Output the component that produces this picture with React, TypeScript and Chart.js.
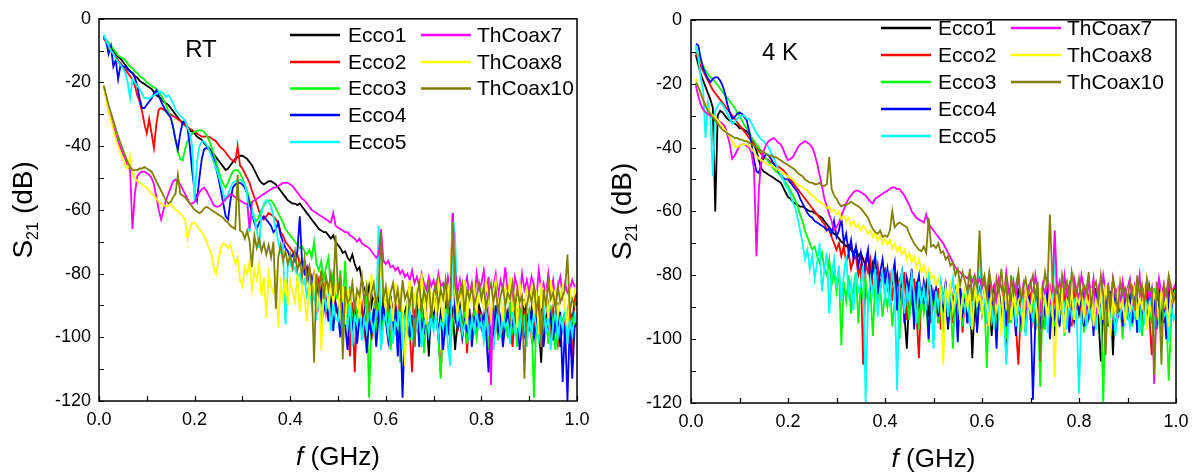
import React, { useEffect, useRef } from "react";
import { Chart, registerables } from "chart.js";

Chart.register(...registerables);

const FONT = "'Liberation Sans', Arial, Helvetica, sans-serif";

// frequency grid (GHz)
const FREQ = [
  0.01, 0.015, 0.02, 0.025, 0.03, 0.035, 0.04, 0.045, 0.05, 0.055, 0.06, 0.065, 0.07, 0.075, 0.08, 0.085, 0.09, 0.095,
  0.1, 0.105, 0.11, 0.115, 0.12, 0.125, 0.13, 0.135, 0.14, 0.145, 0.15, 0.155, 0.16, 0.165, 0.17, 0.175, 0.18, 0.185, 0.19, 0.195,
  0.2, 0.205, 0.21, 0.215, 0.22, 0.225, 0.23, 0.235, 0.24, 0.245, 0.25, 0.255, 0.26, 0.265, 0.27, 0.275, 0.28, 0.285, 0.29, 0.295,
  0.3, 0.305, 0.31, 0.315, 0.32, 0.325, 0.33, 0.335, 0.34, 0.345, 0.35, 0.355, 0.36, 0.365, 0.37, 0.375, 0.38, 0.385, 0.39, 0.395,
  0.4, 0.405, 0.41, 0.415, 0.42, 0.425, 0.43, 0.435, 0.44, 0.445, 0.45, 0.455, 0.46, 0.465, 0.47, 0.475, 0.48, 0.485, 0.49, 0.495,
  0.5, 0.505, 0.51, 0.515, 0.52, 0.525, 0.53, 0.535, 0.54, 0.545, 0.55, 0.555, 0.56, 0.565, 0.57, 0.575, 0.58, 0.585, 0.59, 0.595,
  0.6, 0.605, 0.61, 0.615, 0.62, 0.625, 0.63, 0.635, 0.64, 0.645, 0.65, 0.655, 0.66, 0.665, 0.67, 0.675, 0.68, 0.685, 0.69, 0.695,
  0.7, 0.705, 0.71, 0.715, 0.72, 0.725, 0.73, 0.735, 0.74, 0.745, 0.75, 0.755, 0.76, 0.765, 0.77, 0.775, 0.78, 0.785, 0.79, 0.795,
  0.8, 0.805, 0.81, 0.815, 0.82, 0.825, 0.83, 0.835, 0.84, 0.845, 0.85, 0.855, 0.86, 0.865, 0.87, 0.875, 0.88, 0.885, 0.89, 0.895,
  0.9, 0.905, 0.91, 0.915, 0.92, 0.925, 0.93, 0.935, 0.94, 0.945, 0.95, 0.955, 0.96, 0.965, 0.97, 0.975, 0.98, 0.985, 0.99, 0.995,
  1.0,
];

const SERIES_NAMES = ["Ecco1", "Ecco2", "Ecco3", "Ecco4", "Ecco5", "ThCoax7", "ThCoax8", "ThCoax10"];
const SERIES_COLORS = ["#000000", "#ff0000", "#00ff00", "#0000ff", "#00ffff", "#ff00ff", "#ffff00", "#808000"];

const X_TICK_LABELS = ["0.0", "0.2", "0.4", "0.6", "0.8", "1.0"];
const Y_TICK_LABELS = ["0", "-20", "-40", "-60", "-80", "-100", "-120"];
const X_MARKS = [0, 0.1, 0.2, 0.3, 0.4, 0.5, 0.6, 0.7, 0.8, 0.9, 1.0];
const Y_MARKS = [0, -10, -20, -30, -40, -50, -60, -70, -80, -90, -100, -110, -120];

// ---------- RT (room temperature) S21, dB ----------
const RT_ECCO1 = [
  -6, -7, -8, -9, -10, -11, -12, -12.5, -13.5, -14.5, -15.5, -16.5, -17, -18, -18.5, -19.5, -20, -20.5,
  -21, -21.5, -22, -23, -24, -24.5, -25, -26, -26.5, -27, -28, -29, -30, -31, -32, -32.5, -33, -34, -35, -35.5,
  -36, -37, -37.5, -38, -39, -40, -40.5, -41.5, -42.5, -43.5, -44.5, -45.5, -46.5, -47.5, -47, -46, -45, -44, -43.5, -43,
  -43, -43.5, -44, -45, -46, -47.5, -49, -50.5, -51.5, -52, -51.5, -51, -51, -51.5, -52, -53, -54, -55, -56, -57,
  -57.5, -58, -58, -58.5, -58, -59, -60, -61, -62, -63, -64, -65, -66, -66.5, -67, -67, -68, -69, -68, -70,
  -71, -72, -73.5, -73, -75, -76, -74, -77, -79, -78, -82, -85, -88, -84, -90, -86, -92, -88, -95, -87,
  -90, -98, -87, -93, -91, -100, -88, -104, -92, -89, -97, -91, -103, -90, -95, -88, -99, -92, -106, -90,
  -94, -89, -101, -92, -96, -88, -99, -93, -91, -104, -95, -90, -98, -89, -96, -93, -100, -91, -97, -90,
  -93, -99, -90, -95, -103, -92, -97, -89, -100, -94, -91, -98, -95, -102, -90, -96, -92, -99, -88, -94,
  -97, -91, -100, -93, -96, -108, -92, -95, -90, -101, -94, -97, -89, -103, -95, -92, -99, -91, -96, -88,
  -90,
];
const RT_ECCO2 = [
  -6, -7.5, -9, -10, -11, -12, -13, -14, -15, -16, -17, -18, -19, -21, -24, -26, -29, -33,
  -36, -31.5, -36, -40.5, -33, -28.5, -28, -28.5, -29, -29.5, -30, -30.5, -31, -31.5, -32, -33, -33.5, -34, -34.5, -35,
  -35.5, -36, -36.5, -37, -37, -37, -37, -37.5, -38, -38.5, -39.5, -40.5, -41, -42, -43, -44, -44.5, -45, -40, -46,
  -47, -48.5, -50, -51.5, -54, -56, -58, -60.5, -62, -63, -62, -61, -61.5, -62, -63, -64, -67, -68, -70, -71,
  -72, -73, -75, -74, -77, -76, -79, -81, -78, -84, -80, -86, -82, -89, -84, -92, -86, -96, -88, -91,
  -93, -88, -97, -90, -94, -106, -89, -111, -92, -95, -90, -99, -93, -88, -101, -92, -96, -89, -98, -91,
  -94, -90, -103, -92, -97, -89, -100, -93, -95, -91, -98, -111, -92, -94, -99, -89, -96, -93, -101, -90,
  -95, -92, -99, -112, -93, -97, -89, -102, -94, -91, -98, -95, -100, -90, -105, -93, -96, -91, -99, -92,
  -94, -100, -91, -96, -93, -104, -90, -97, -95, -101, -92, -98, -89, -103, -94, -96, -91, -99, -93, -97,
  -92, -100, -95, -98, -90, -103, -94, -97, -93, -99, -91, -96, -102, -94, -97, -95, -100, -90, -110, -88,
  -86,
];
const RT_ECCO3 = [
  -5.5, -6.5, -7.5, -8.5, -9.5, -10.5, -11.5, -12, -12.5, -13, -14, -15, -15.5, -16.5, -17, -18, -18.5, -19,
  -20, -20.5, -21, -21.5, -22, -23, -24, -25.5, -27, -29, -31, -34, -38, -42, -44, -44.5, -41, -38.5, -37, -36,
  -35.5, -35.2, -35, -35, -35.5, -36.5, -38, -40, -42.5, -45, -47.5, -50, -52, -53, -51.5, -49.5, -48, -47.5, -47.5, -48.5,
  -50, -52, -54, -57, -60, -62.5, -63.5, -62, -60, -58.5, -57.5, -57, -57, -58, -59.5, -61, -62.5, -64, -66, -67,
  -68, -69, -70, -71, -72, -71.5, -73, -74, -72.5, -75, -70, -77, -79, -76, -82, -78, -75, -85, -80, -88,
  -86, -79, -90, -76, -93, -84, -97, -88, -95, -90, -100, -92, -87, -119, -96, -91, -98, -89, -103, -93,
  -95, -90, -104, -93, -98, -91, -108, -94, -97, -89, -101, -92, -96, -93, -100, -90, -105, -94, -98, -91,
  -96, -92, -100, -113, -94, -98, -89, -103, -95, -91, -97, -93, -99, -90, -102, -95, -97, -92, -100, -94,
  -93, -99, -91, -104, -95, -97, -90, -101, -94, -96, -92, -100, -89, -98, -95, -103, -91, -97, -94, -99,
  -92, -96, -119, -94, -100, -91, -98, -95, -102, -90, -97, -104, -93, -99, -95, -101, -92, -98, -94, -96,
  -95,
];
const RT_ECCO4 = [
  -5.5, -7, -11, -8.5, -15, -13, -19, -14.5, -15, -15, -16, -16.5, -17, -18.5, -21, -25, -28, -28,
  -27, -26, -25, -23.5, -22.5, -24, -26, -27.5, -29, -30, -31, -34, -38, -41, -36, -32.5, -32, -34, -40, -48,
  -54, -57, -50, -44, -41, -40.5, -41, -42, -44, -47, -50, -54, -58, -62, -63, -57, -53, -52, -51.5, -51.5,
  -52, -53, -55, -58, -61, -64, -66, -64, -63, -62, -63, -64, -65, -67, -66, -64, -68, -70, -72, -73,
  -75, -74, -76, -73, -62, -77, -80, -78, -84, -81, -87, -83, -90, -85, -92, -88, -95, -86, -98, -89,
  -93, -100, -89, -96, -104, -91, -98, -90, -102, -94, -97, -92, -105, -95, -99, -91, -103, -93, -96, -90,
  -95, -101, -92, -98, -89, -106, -94, -119, -97, -91, -100, -93, -96, -90, -103, -95, -98, -92, -101, -94,
  -96, -91, -99, -93, -104, -95, -98, -90, -61, -94, -97, -92, -100, -95, -98, -91, -103, -94, -96, -93,
  -97, -92, -99, -111, -95, -101, -90, -98, -94, -103, -96, -92, -100, -95, -97, -91, -104, -94, -99, -93,
  -96, -92, -100, -94, -98, -91, -103, -95, -97, -93, -101, -94, -99, -92, -114, -96, -120, -95, -113, -97,
  -95,
];
const RT_ECCO5 = [
  -5, -7, -8.5, -10, -11, -12.5, -13.5, -14.5, -15.5, -17, -20, -25, -19, -20, -21, -22, -23.5, -25,
  -25, -25, -24.5, -24, -23.5, -23, -23, -23.5, -24.5, -24, -25, -26.5, -28.5, -29.5, -30.5, -31, -32, -34, -36, -40,
  -57, -45, -40, -38.5, -38.5, -39.5, -41, -43, -45, -47, -49, -52, -55, -57, -55, -53, -51.5, -51, -51, -50.5,
  -51, -52, -55, -67, -60, -63, -66, -72, -61, -58, -57, -57.5, -59, -62, -66, -70, -73, -71, -96, -77,
  -76, -79, -78, -81, -80, -84, -82, -87, -83, -90, -85, -93, -88, -96, -84, -91, -87, -98, -89, -94,
  -95, -88, -100, -91, -97, -89, -103, -93, -96, -90, -101, -94, -98, -91, -95, -99, -92, -65, -104, -96,
  -93, -99, -91, -102, -95, -97, -90, -104, -94, -98, -92, -100, -95, -97, -91, -103, -96, -93, -99, -94,
  -98, -92, -100, -95, -97, -91, -103, -109, -62, -68, -95, -92, -99, -96, -93, -101, -94, -98, -92, -97,
  -95, -101, -92, -98, -94, -104, -96, -91, -100, -93, -97, -95, -102, -90, -98, -94, -99, -92, -96, -103,
  -94, -99, -92, -97, -101, -95, -90, -98, -93, -104, -96, -92, -100, -94, -97, -91, -102, -95, -99, -93,
  -96,
];
const RT_TH7 = [
  -21, -25, -29, -31.5, -34, -36.5, -38.5, -40.5, -42.5, -44, -46, -47.5, -66, -55, -49.5, -48.5, -48, -48,
  -48.5, -49, -50, -52, -56, -60, -63, -60, -57, -55, -53, -51, -50.5, -51, -52, -53.5, -55, -56.5, -58, -58,
  -57.5, -56, -54.5, -53.5, -53, -54, -55.5, -57, -58.5, -59, -59, -58.5, -57.5, -56.5, -56, -55, -55.5, -56, -56.5, -57,
  -57.5, -58, -58, -66, -57.5, -57, -56.5, -56, -55.5, -55, -54.5, -54, -53.5, -53, -53, -52.5, -52, -51.5, -51.5, -51.5,
  -52, -52.5, -53.5, -54.5, -55.5, -56.5, -57, -58, -59, -60, -60.5, -61, -61.5, -62, -62.5, -63, -63.5, -64, -61, -65,
  -65.5, -66, -66.5, -67, -67, -68, -68.5, -69, -70, -69, -70.5, -71, -71.5, -72, -73, -74, -75, -74, -66, -76,
  -77, -76, -78, -77.5, -79, -78, -80, -79, -81, -80, -82, -79, -83, -81, -84, -80, -83, -85, -81, -84,
  -82, -86, -80, -84, -83, -87, -81, -85, -61, -79, -86, -82, -88, -84, -81, -87, -83, -89, -80, -85,
  -83, -79, -86, -81, -115, -84, -80, -87, -82, -85, -78, -86, -83, -89, -81, -84, -87, -80, -85, -82,
  -86, -81, -84, -88, -79, -85, -83, -87, -80, -86, -82, -89, -84, -81, -87, -83, -86, -85, -82, -84,
  -84,
];
const RT_TH8 = [
  -21, -25.5, -29, -32, -35, -37.5, -40, -42, -44, -46, -47, -43, -49, -50, -51, -51.5, -52, -52.5,
  -53, -54, -55, -55.5, -56.5, -57.5, -58, -58.5, -59, -58.5, -58, -59, -60, -60.5, -61, -62, -63, -69, -66, -64,
  -64, -65, -66, -67, -68, -70, -72, -74, -78, -80, -76, -72, -70.5, -71, -72, -71, -74, -77, -75, -82,
  -84, -78, -80, -76, -85, -79, -82, -77, -87, -81, -94, -80, -84, -86, -79, -97, -83, -88, -81, -90,
  -82, -86, -89, -80, -92, -84, -88, -95, -83, -87, -81, -90, -85, -104, -86, -82, -91, -84, -89, -83,
  -87, -92, -84, -96, -85, -89, -82, -91, -86, -94, -81, -88, -84, -92, -80, -87, -90, -83, -78, -86,
  -91, -85, -88, -95, -83, -90, -86, -92, -109, -89, -82, -93, -87, -85, -91, -80, -88, -96, -84, -90,
  -86, -92, -83, -89, -95, -84, -88, -81, -64, -87, -93, -85, -90, -82, -96, -86, -89, -84, -91, -87,
  -85, -91, -83, -88, -94, -86, -82, -90, -87, -95, -84, -89, -81, -92, -86, -97, -83, -88, -90, -85,
  -89, -84, -92, -87, -99, -83, -90, -86, -94, -82, -88, -85, -93, -87, -84, -91, -96, -85, -89, -86,
  -83,
];
const RT_TH10 = [
  -21, -24, -27, -29.5, -32, -34.5, -37, -39, -41, -43, -45, -46.5, -47.5, -47.5, -47.5, -47, -47, -46.5,
  -47, -47.5, -48, -49.5, -51, -52.5, -54, -55.5, -57, -58, -57.5, -56, -55, -49, -55, -55.5, -56, -57, -58, -59,
  -60, -60.5, -61, -60.5, -59.5, -59, -59.5, -60, -60.5, -61, -61.5, -62, -62.5, -63.5, -64, -65, -65.5, -66, -49, -66.5,
  -67, -69, -66.5, -70, -78, -68, -72, -69, -73, -70.5, -74, -71, -75, -70, -91, -75, -71, -76, -73, -77,
  -74, -78, -73, -79, -76, -81, -75, -82, -78, -84, -108, -80, -86, -79, -88, -81, -85, -80, -87, -68,
  -86, -82, -107, -84, -89, -88, -83, -91, -85, -87, -81, -89, -84, -92, -86, -83, -90, -85, -67, -88,
  -84, -91, -86, -83, -89, -85, -92, -82, -88, -86, -90, -84, -103, -87, -83, -91, -85, -89, -82, -94,
  -86, -83, -90, -85, -88, -82, -91, -87, -64, -84, -89, -86, -83, -92, -85, -88, -84, -90, -87, -83,
  -88, -84, -91, -86, -83, -89, -85, -92, -87, -84, -90, -86, -88, -83, -91, -85, -89, -87, -113, -90,
  -86, -89, -84, -92, -87, -103, -85, -90, -83, -88, -86, -91, -84, -89, -87, -85, -74, -92, -88, -90,
  -87,
];

// ---------- 4 K S21, dB ----------
const K4_ECCO1 = [
  -11, -14, -17, -19, -21, -23, -25, -27.5, -60, -30, -28.5, -29, -30, -31, -31.5, -32, -32.5, -33,
  -34, -34, -34.5, -35, -35.8, -37, -39, -41, -44, -46.5, -47.5, -48, -48.5, -49, -49.5, -50, -50.5, -51, -52.5, -54,
  -55.5, -56, -57, -57.5, -58, -58.5, -58.5, -59, -59.5, -60, -60, -60.5, -61, -61.5, -62, -63, -64, -65, -66, -67,
  -67.5, -68.5, -69.5, -70, -71, -70.5, -72, -73, -71.5, -74, -73, -75, -77, -74, -79, -76, -81, -78, -83, -80,
  -82, -79, -86, -81, -84, -80, -88, -83, -92, -103, -86, -84, -94, -82, -90, -85, -89, -83, -93, -86,
  -88, -84, -95, -82, -90, -86, -97, -83, -89, -85, -93, -84, -91, -87, -95, -85, -106, -88, -96, -84,
  -90, -85, -94, -87, -99, -84, -91, -86, -93, -88, -105, -85, -92, -87, -96, -84, -90, -89, -98, -86,
  -93, -87, -97, -85, -91, -88, -95, -84, -92, -89, -99, -86, -94, -87, -91, -85, -96, -88, -90, -86,
  -92, -87, -95, -85, -90, -88, -97, -84, -93, -107, -91, -89, -96, -85, -105, -87, -92, -88, -95, -86,
  -90, -87, -94, -85, -92, -88, -98, -84, -91, -86, -95, -87, -89, -85, -93, -88, -96, -84, -90, -85,
  -83,
];
const K4_ECCO2 = [
  -10, -12.5, -14.5, -16, -17.5, -19, -20.5, -22, -23, -24, -25, -26, -27, -28, -29, -30, -31, -32,
  -33, -34, -35, -36, -37, -38, -39, -40, -41, -42, -43, -43.5, -44, -44.5, -45, -45.5, -46, -46.5, -47, -48,
  -49, -50, -51, -52, -53, -54, -55, -56, -57, -58, -59, -60, -61, -62, -63, -64, -65.5, -66, -68, -70,
  -72, -70, -74, -71, -76, -73, -78, -75, -74, -80, -77, -108, -76, -79, -75, -83, -82, -77, -85, -79,
  -78, -84, -80, -88, -77, -90, -82, -86, -79, -94, -83, -88, -81, -92, -106, -85, -84, -89, -82, -95,
  -86, -91, -84, -97, -88, -83, -93, -87, -95, -85, -90, -84, -98, -86, -89, -83, -94, -88, -92, -85,
  -91, -86, -95, -84, -89, -87, -97, -85, -92, -88, -94, -86, -90, -84, -96, -108, -91, -85, -93, -88,
  -86, -94, -88, -91, -85, -97, -87, -89, -84, -92, -86, -95, -88, -90, -85, -93, -87, -96, -84, -91,
  -88, -93, -85, -96, -87, -90, -84, -94, -86, -91, -88, -97, -85, -92, -87, -95, -84, -90, -86, -93,
  -87, -94, -85, -91, -88, -96, -86, -90, -84, -93, -105, -89, -85, -92, -87, -95, -86, -90, -84, -88,
  -82,
];
const K4_ECCO3 = [
  -9, -11, -13, -14.5, -16, -17, -18, -18.5, -19.5, -20.5, -21.5, -22.5, -23.5, -24.5, -25.5, -26.5, -27.5, -29,
  -30, -31.5, -33, -34, -35, -37, -38, -39, -40, -41.5, -42.5, -43.5, -44.5, -45.5, -46.5, -47.5, -48, -49, -50, -51,
  -52, -53.5, -55, -56.5, -58.5, -61, -63, -66, -68, -70, -72, -71, -74, -76, -73, -78, -80, -75, -83, -79,
  -85, -78, -102, -82, -88, -80, -92, -84, -79, -95, -83, -87, -81, -90, -85, -99, -82, -88, -84, -93,
  -86, -90, -83, -96, -88, -85, -100, -84, -91, -87, -94, -83, -89, -86, -97, -85, -92, -88, -101, -84,
  -90, -87, -95, -83, -98, -86, -91, -88, -103, -85, -93, -87, -96, -84, -90, -88, -97, -86, -94, -89,
  -92, -87, -109, -85, -94, -89, -97, -86, -91, -88, -100, -84, -95, -87, -93, -86, -98, -88, -91, -85,
  -94, -87, -97, -85, -115, -88, -97, -86, -93, -89, -96, -84, -91, -87, -99, -85, -92, -88, -95, -86,
  -90, -87, -98, -85, -93, -88, -96, -84, -91, -89, -120, -86, -94, -87, -97, -85, -92, -88, -100, -86,
  -91, -87, -96, -85, -93, -89, -99, -86, -92, -88, -95, -84, -90, -87, -98, -85, -92, -113, -94, -86,
  -84,
];
const K4_ECCO4 = [
  -7.5, -8, -12, -15, -17, -18.5, -19.5, -18.5, -18, -18, -19, -20.5, -23, -26.5, -29, -31, -30.5, -29.5,
  -29, -29.5, -30.5, -31.5, -35, -39, -44, -47.5, -48, -45, -43, -42, -42.5, -43.5, -45, -46, -47.5, -48.5, -49.5, -50,
  -50, -51, -52, -53, -54, -56, -57.5, -59, -60.5, -61.5, -62, -63, -63.5, -64, -64.5, -65, -66, -65, -67, -63,
  -68, -66, -62, -70, -67, -73, -69, -75, -71, -77, -73, -80, -76, -72, -83, -78, -74, -86, -79, -75,
  -82, -78, -88, -80, -76, -91, -83, -79, -95, -81, -85, -78, -97, -84, -80, -89, -82, -86, -100, -83,
  -88, -84, -93, -86, -90, -82, -96, -87, -91, -85, -101, -84, -92, -88, -95, -83, -90, -87, -98, -85,
  -92, -86, -95, -84, -89, -88, -103, -85, -93, -87, -96, -84, -91, -89, -99, -86, -94, -88, -92, -85,
  -90, -119, -94, -86, -97, -88, -92, -85, -100, -87, -93, -89, -96, -84, -91, -88, -98, -86, -94, -87,
  -91, -85, -96, -88, -93, -86, -99, -84, -90, -88, -95, -86, -92, -87, -97, -85, -93, -89, -96, -84,
  -92, -87, -95, -85, -98, -88, -91, -86, -94, -84, -90, -88, -97, -85, -93, -87, -100, -86, -92, -88,
  -85,
];
const K4_ECCO5 = [
  -8, -12, -18, -22, -37, -26, -30, -49, -28.5, -27, -26, -26.5, -28, -29.5, -31, -32.5, -32, -31,
  -30.5, -30, -30, -31, -31, -32.5, -34, -35.5, -36.5, -37.5, -38, -39, -40, -41.5, -43, -45, -47, -48.5, -50, -52,
  -53, -55, -57, -59, -62, -66, -70, -75, -72, -78, -74, -81, -76, -70, -85, -78, -73, -92, -80, -75,
  -84, -77, -88, -80, -74, -86, -82, -91, -79, -85, -83, -77, -120, -89, -81, -86, -78, -93, -84, -80,
  -87, -81, -90, -78, -85, -116, -83, -79, -92, -84, -88, -80, -86, -95, -82, -89, -84, -91, -79, -87,
  -103, -85, -90, -82, -88, -84, -93, -86, -81, -89, -85, -94, -87, -91, -84, -96, -88, -83, -90, -68,
  -92, -86, -95, -88, -90, -97, -85, -93, -89, -91, -108, -94, -91, -86, -96, -89, -92, -87, -99, -88,
  -90, -94, -87, -96, -89, -92, -86, -98, -88, -93, -70, -95, -87, -91, -89, -97, -86, -93, -88, -92,
  -117, -91, -88, -95, -90, -93, -86, -97, -89, -92, -87, -96, -90, -94, -88, -99, -91, -93, -87, -95,
  -91, -96, -88, -93, -90, -98, -87, -94, -89, -92, -86, -97, -90, -95, -88, -93, -91, -101, -89, -94,
  -92,
];
const K4_TH7 = [
  -20.5, -24, -26.5, -28, -29, -29.5, -30, -30.5, -31, -31.5, -32, -32.5, -33.5, -36, -39, -43.5, -42.5, -41,
  -39.5, -39, -39, -39.5, -40, -42, -47, -74, -53, -44, -41, -39, -38, -37.5, -37, -37.5, -38.5, -39, -40.5, -42.5,
  -44, -43.5, -43, -41.5, -40, -39, -38.5, -38, -38.5, -39, -40, -42, -45, -48.5, -52, -56, -58.5, -61, -63, -66,
  -65, -63.5, -61.5, -59.5, -57.5, -56, -55, -54, -53.5, -53.5, -54, -54.5, -55, -56, -57, -57.5, -56, -55.5, -55, -54.5,
  -54, -53.5, -53, -52.5, -52.5, -53, -53, -54, -55, -56.5, -58, -60, -61, -62, -62.5, -63, -63.5, -61, -64, -65,
  -66, -67, -68, -69, -70, -71.5, -73, -74.5, -76, -77.5, -78.5, -79, -80, -80.5, -81, -79.5, -82, -80, -83, -81,
  -84, -82, -86, -80, -85, -83, -88, -81, -84, -87, -79, -85, -89, -82, -86, -80, -88, -83, -91, -84,
  -82, -87, -80, -85, -90, -83, -86, -81, -89, -84, -66, -85, -82, -88, -80, -86, -83, -91, -81, -85,
  -87, -80, -84, -89, -82, -86, -81, -92, -84, -88, -80, -85, -83, -90, -81, -86, -84, -89, -82, -87,
  -84, -81, -88, -83, -86, -80, -90, -85, -82, -87, -84, -114, -88, -81, -86, -83, -91, -82, -85, -84,
  -83,
];
const K4_TH8 = [
  -18.5, -21, -23, -25, -26.5, -28, -29, -30, -30.5, -31.5, -32.5, -33.5, -34.5, -35.5, -36.5, -38, -39.5, -40,
  -39.5, -39, -39, -39, -39.5, -40.5, -41.5, -42.5, -43.5, -44, -44.5, -45, -45.5, -45.5, -46, -46.5, -47, -47.5, -48, -48.5,
  -49, -49.5, -50, -51, -51.5, -52, -52.5, -53, -53.5, -54.5, -55, -55.5, -56.5, -57, -57.5, -58, -59, -58.5, -60, -59.5,
  -61, -60, -62.5, -61.5, -63, -62, -64.5, -63, -65, -64, -66, -64.5, -65.5, -67, -66, -68, -66.5, -69, -67.5, -70,
  -68.5, -70.5, -69, -71.5, -70, -72.5, -71, -73.5, -72, -75, -73, -76, -74, -77.5, -75, -79, -77, -80, -78, -81,
  -80, -83, -81, -85, -108, -84, -88, -83, -91, -86, -82, -94, -87, -84, -90, -85, -97, -83, -89, -86,
  -92, -85, -89, -96, -84, -88, -91, -86, -99, -83, -90, -87, -94, -85, -92, -88, -86, -97, -84, -89,
  -91, -86, -88, -95, -84, -90, -87, -93, -85, -89, -112, -86, -92, -84, -98, -88, -90, -85, -94, -87,
  -89, -85, -93, -87, -90, -84, -96, -88, -91, -86, -94, -83, -89, -99, -87, -92, -85, -90, -88, -95,
  -86, -91, -88, -84, -94, -87, -90, -85, -97, -89, -92, -86, -88, -93, -85, -90, -87, -96, -84, -89,
  -85,
];
const K4_TH10 = [
  -19.5, -21, -23, -25, -27, -28.5, -29.5, -30.5, -31.5, -32.5, -33.5, -34.5, -35, -35.5, -36, -36.5, -37, -37,
  -37.5, -37.5, -38, -38, -38.5, -39, -39.5, -40, -40.5, -41, -41.5, -42, -42.5, -42.5, -43, -43, -43.5, -44, -44.5, -45,
  -45.5, -46, -46.5, -47, -48, -48.5, -49, -50, -50.5, -51, -51, -51.5, -51.5, -51, -52, -52, -51.5, -43, -53, -55,
  -56, -57.5, -58.5, -58, -58, -57.5, -57, -57.5, -58, -58.5, -59, -60, -61, -62, -64, -65.5, -66.5, -67, -66, -68,
  -67.5, -68, -66, -60, -65, -64, -63.5, -64, -64.5, -65, -67, -68.5, -70, -71, -72, -72.5, -71, -73, -62, -71,
  -70.5, -71.5, -70, -73, -72.5, -75, -74, -77, -76, -80, -78, -83, -79, -82, -85, -78, -88, -81, -84, -66,
  -83, -80, -86, -79, -84, -90, -81, -85, -78, -87, -82, -95, -80, -86, -83, -79, -88, -84, -81, -86,
  -83, -80, -87, -82, -107, -85, -79, -84, -61, -81, -86, -83, -89, -80, -85, -82, -88, -79, -84, -86,
  -81, -87, -83, -85, -79, -90, -84, -82, -88, -80, -86, -105, -83, -89, -81, -85, -92, -82, -86, -84,
  -88, -82, -85, -91, -80, -86, -83, -89, -81, -85, -84, -111, -82, -87, -108, -83, -86, -80, -84, -88,
  -86,
];

const RT_SERIES = [RT_ECCO1, RT_ECCO2, RT_ECCO3, RT_ECCO4, RT_ECCO5, RT_TH7, RT_TH8, RT_TH10];
const K4_SERIES = [K4_ECCO1, K4_ECCO2, K4_ECCO3, K4_ECCO4, K4_ECCO5, K4_TH7, K4_TH8, K4_TH10];

type PanelCfg = {
  pageLeft: number;
  width: number;
  height: number;
  yAxisW: number;
  xAxisH: number;
  padTop: number;
  padRight: number;
  yTickPad: number;
  series: number[][];
  tag: string;
  tagX: number;
  tagY: number;
  legendRows: number[];
  legendCols: { x0: number; x1: number; tx: number }[];
  yTitleX: number;
  xTitleBase: number;
};

const LEFT_PANEL: PanelCfg = {
  pageLeft: 0,
  width: 600,
  height: 475,
  yAxisW: 99,
  xAxisH: 74,
  padTop: 16,
  padRight: 23,
  yTickPad: 8,
  series: RT_SERIES,
  tag: "RT",
  tagX: 201,
  tagY: 50,
  legendRows: [35, 62, 88.5, 115, 142],
  legendCols: [
    { x0: 290, x1: 340, tx: 348 },
    { x0: 421, x1: 471, tx: 477 },
  ],
  yTitleX: 22,
  xTitleBase: 465,
};

const RIGHT_PANEL: PanelCfg = {
  pageLeft: 600,
  width: 604,
  height: 475,
  yAxisW: 91,
  xAxisH: 72,
  padTop: 14,
  padRight: 28,
  yTickPad: 9,
  series: K4_SERIES,
  tag: "4 K",
  tagX: 180,
  tagY: 53,
  legendRows: [28, 55, 82, 109, 136],
  legendCols: [
    { x0: 281, x1: 331, tx: 338 },
    { x0: 411, x1: 461, tx: 467 },
  ],
  yTitleX: 21,
  xTitleBase: 467,
};

function makeDecor(cfg: PanelCfg) {
  return {
    id: "decor",
    afterDraw(chart: any) {
      const ctx: CanvasRenderingContext2D = chart.ctx;
      const a = chart.chartArea;
      const xs = chart.scales.x;
      const ys = chart.scales.y;
      ctx.save();
      // frame
      ctx.strokeStyle = "#000";
      ctx.lineWidth = 1.5;
      ctx.strokeRect(a.left, a.top, a.right - a.left, a.bottom - a.top);
      // inward ticks
      ctx.lineWidth = 1.2;
      ctx.beginPath();
      for (const v of Y_MARKS) {
        const y = Math.round(ys.getPixelForValue(v)) + 0.5;
        ctx.moveTo(a.left, y);
        ctx.lineTo(a.left + 5, y);
      }
      for (const v of X_MARKS) {
        const x = Math.round(xs.getPixelForValue(v)) + 0.5;
        ctx.moveTo(x, a.bottom);
        ctx.lineTo(x, a.bottom - 5);
      }
      ctx.stroke();

      // legend
      ctx.font = `21px ${FONT}`;
      ctx.textBaseline = "middle";
      ctx.textAlign = "left";
      SERIES_NAMES.forEach((name, i) => {
        const col = i < 5 ? 0 : 1;
        const row = i < 5 ? i : i - 5;
        const c = cfg.legendCols[col];
        const y = cfg.legendRows[row];
        ctx.strokeStyle = SERIES_COLORS[i];
        ctx.lineWidth = 2.6;
        ctx.beginPath();
        ctx.moveTo(c.x0, y);
        ctx.lineTo(c.x1, y);
        ctx.stroke();
        ctx.fillStyle = "#000";
        ctx.fillText(name, c.tx, y + 1);
      });

      // panel tag
      ctx.font = `24px ${FONT}`;
      ctx.textAlign = "center";
      ctx.fillText(cfg.tag, cfg.tagX, cfg.tagY);

      // x title: italic f + (GHz)
      ctx.textBaseline = "alphabetic";
      ctx.textAlign = "left";
      const big = `26px ${FONT}`;
      const ital = `italic 26px ${FONT}`;
      ctx.font = ital;
      const wf = ctx.measureText("f").width;
      ctx.font = big;
      const wr = ctx.measureText(" (GHz)").width;
      const cx = (a.left + a.right) / 2;
      const sx = cx - (wf + wr) / 2;
      ctx.font = ital;
      ctx.fillText("f", sx, cfg.xTitleBase);
      ctx.font = big;
      ctx.fillText(" (GHz)", sx + wf, cfg.xTitleBase);

      // y title: S21 (dB), rotated
      const cy = (a.top + a.bottom) / 2;
      ctx.translate(cfg.yTitleX, cy);
      ctx.rotate(-Math.PI / 2);
      const yBig = `28px ${FONT}`;
      const sub = `16px ${FONT}`;
      ctx.font = yBig;
      const wS = ctx.measureText("S").width;
      const wD = ctx.measureText("(dB)").width;
      ctx.font = sub;
      const w21 = ctx.measureText("21").width;
      const gap = 8;
      const total = wS + w21 + gap + wD;
      let tx = -total / 2;
      const base = 10;
      ctx.font = yBig;
      ctx.fillText("S", tx, base);
      tx += wS;
      ctx.font = sub;
      ctx.fillText("21", tx, base + 6);
      tx += w21 + gap;
      ctx.font = yBig;
      ctx.fillText("(dB)", tx, base);
      ctx.restore();
    },
  };
}

function Panel({ cfg }: { cfg: PanelCfg }) {
  const ref = useRef<HTMLCanvasElement | null>(null);
  useEffect(() => {
    const canvas = ref.current;
    if (!canvas) return;
    const datasets = SERIES_NAMES.map((name, i) => ({
      label: name,
      data: FREQ.map((f, j) => ({ x: f, y: cfg.series[i][j] })),
      borderColor: SERIES_COLORS[i],
      backgroundColor: SERIES_COLORS[i],
      borderWidth: 1.8,
      pointRadius: 0,
      tension: 0,
      fill: false,
      clip: 0,
    })).reverse();
    const chart = new Chart(canvas, {
      type: "line",
      data: { datasets } as any,
      options: {
        animation: false,
        responsive: false,
        maintainAspectRatio: false,
        events: [],
        layout: { padding: { left: 0, right: cfg.padRight, top: cfg.padTop, bottom: 0 } },
        plugins: {
          legend: { display: false },
          tooltip: { enabled: false },
          title: { display: false },
        },
        scales: {
          x: {
            type: "linear",
            min: 0,
            max: 1,
            grid: { display: false, drawTicks: false },
            border: { display: false },
            ticks: {
              stepSize: 0.2,
              padding: 8,
              color: "#000",
              maxRotation: 0,
              autoSkip: false,
              font: { family: FONT, size: 18 },
              callback: (v: any) => X_TICK_LABELS[Math.round(Number(v) * 5)] ?? "",
            },
            afterFit: (s: any) => {
              s.height = cfg.xAxisH;
            },
          },
          y: {
            type: "linear",
            min: -120,
            max: 0,
            grid: { display: false, drawTicks: false },
            border: { display: false },
            ticks: {
              stepSize: 20,
              padding: cfg.yTickPad,
              color: "#000",
              autoSkip: false,
              font: { family: FONT, size: 18 },
              callback: (v: any) => Y_TICK_LABELS[Math.round(-Number(v) / 20)] ?? "",
            },
            afterFit: (s: any) => {
              s.width = cfg.yAxisW;
            },
          },
        },
      } as any,
      plugins: [makeDecor(cfg)],
    });
    return () => chart.destroy();
  }, [cfg]);
  return (
    <canvas
      ref={ref}
      width={cfg.width}
      height={cfg.height}
      style={{ position: "absolute", left: cfg.pageLeft, top: 0, width: cfg.width, height: cfg.height }}
    />
  );
}

export default function App() {
  return (
    <div style={{ position: "absolute", left: 0, top: 0, width: 1204, height: 475, background: "#fff" }}>
      <Panel cfg={LEFT_PANEL} />
      <Panel cfg={RIGHT_PANEL} />
    </div>
  );
}
